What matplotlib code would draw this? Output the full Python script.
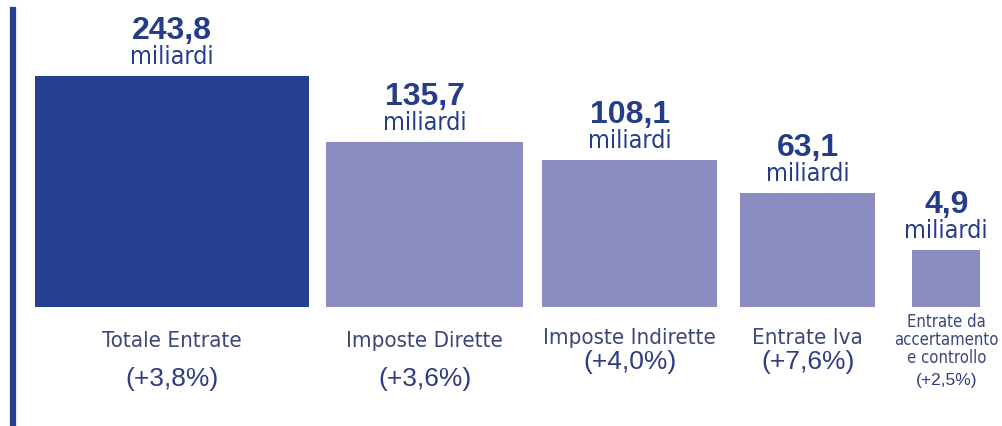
import matplotlib.pyplot as plt
import numpy as np

categories = ["Totale Entrate", "Imposte Dirette", "Imposte Indirette",
              "Entrate Iva", "Entrate da\naccertamento\ne controllo"]
amounts = [243.8, 135.7, 108.1, 63.1, 4.9]   # miliardi di euro
changes = [3.8, 3.6, 4.0, 7.6, 2.5]          # variazione %

DARK = "#24408e"
LIGHT = "#8b8cc1"
VALUE_COL = "#253c89"
CAT_COL = "#3d4679"
PCT_COL = "#2f3b82"
NARROW = dict(family="DejaVu Sans", stretch="condensed")
WIDE = dict(family=["Liberation Sans", "DejaVu Sans"])


def it(x):
    # decimal comma
    return "{:.1f}".format(x).replace(".", ",")


fig = plt.figure(figsize=(10.02, 4.27), dpi=100)
base = 119 / 427
ax = fig.add_axes([0, base, 1, 1 - base])

# infographic: bar heights follow a compressed (power) scale
p = 0.75
ax.set_yscale("function", functions=(lambda v: np.sign(v) * np.abs(v) ** p,
                                     lambda y: np.sign(y) * np.abs(y) ** (1 / p)))
floor = -40
ax.set_xlim(0, 1002)
ax.set_ylim(floor, 390)
ax.axis("off")

# bars keep the same aspect ratio: width follows the drawn height
y0 = ax.transData.transform([[0, floor]])[0, 1]
px = ax.transData.transform([[0, v] for v in amounts])[:, 1] - y0
widths = 1.19 * px
gaps = [17, 19, 23, 37]
lefts = 35 + np.concatenate([[0], np.cumsum(widths[:-1] + np.array(gaps))])
centers = lefts + widths / 2

colors = [DARK] + [LIGHT] * (len(amounts) - 1)
ax.bar(lefts, np.array(amounts) - floor, width=widths, bottom=floor,
       align="edge", color=colors, linewidth=0)

pt = 72 / 100  # pixels -> points
cat_dy = [33, 33, 30, 30, 32]
pct_dy = [71, 71, 54, 54, 73]
cat_size = [16, 16, 16, 16, 12]
pct_size = [19, 19, 19, 19, 12.5]

for i, v in enumerate(amounts):
    ax.annotate(it(v), xy=(centers[i], v), xytext=(0, 38 * pt),
                textcoords="offset points", ha="center", va="baseline",
                fontsize=23, fontweight="bold", color=VALUE_COL,
                annotation_clip=False, **WIDE)
    ax.annotate("miliardi", xy=(centers[i], v), xytext=(0, 13 * pt),
                textcoords="offset points", ha="center", va="baseline",
                fontsize=18, color=VALUE_COL, annotation_clip=False, **NARROW)
    ax.annotate(categories[i], xy=(centers[i], floor), xytext=(0, -cat_dy[i] * pt),
                textcoords="offset points", ha="center", va="center",
                fontsize=cat_size[i], color=CAT_COL, linespacing=1.0,
                annotation_clip=False, **NARROW)
    ax.annotate("(+" + it(changes[i]) + "%)", xy=(centers[i], floor),
                xytext=(0, -pct_dy[i] * pt), textcoords="offset points",
                ha="center", va="center", fontsize=pct_size[i], color=PCT_COL,
                annotation_clip=False, **WIDE)

# vertical rule on the left
fig.add_artist(plt.Line2D([13 / 1002, 13 / 1002], [0, 1 - 11 / 427],
                          transform=fig.transFigure, color=DARK, linewidth=4.5))

fig.savefig("out.png", dpi=100)
